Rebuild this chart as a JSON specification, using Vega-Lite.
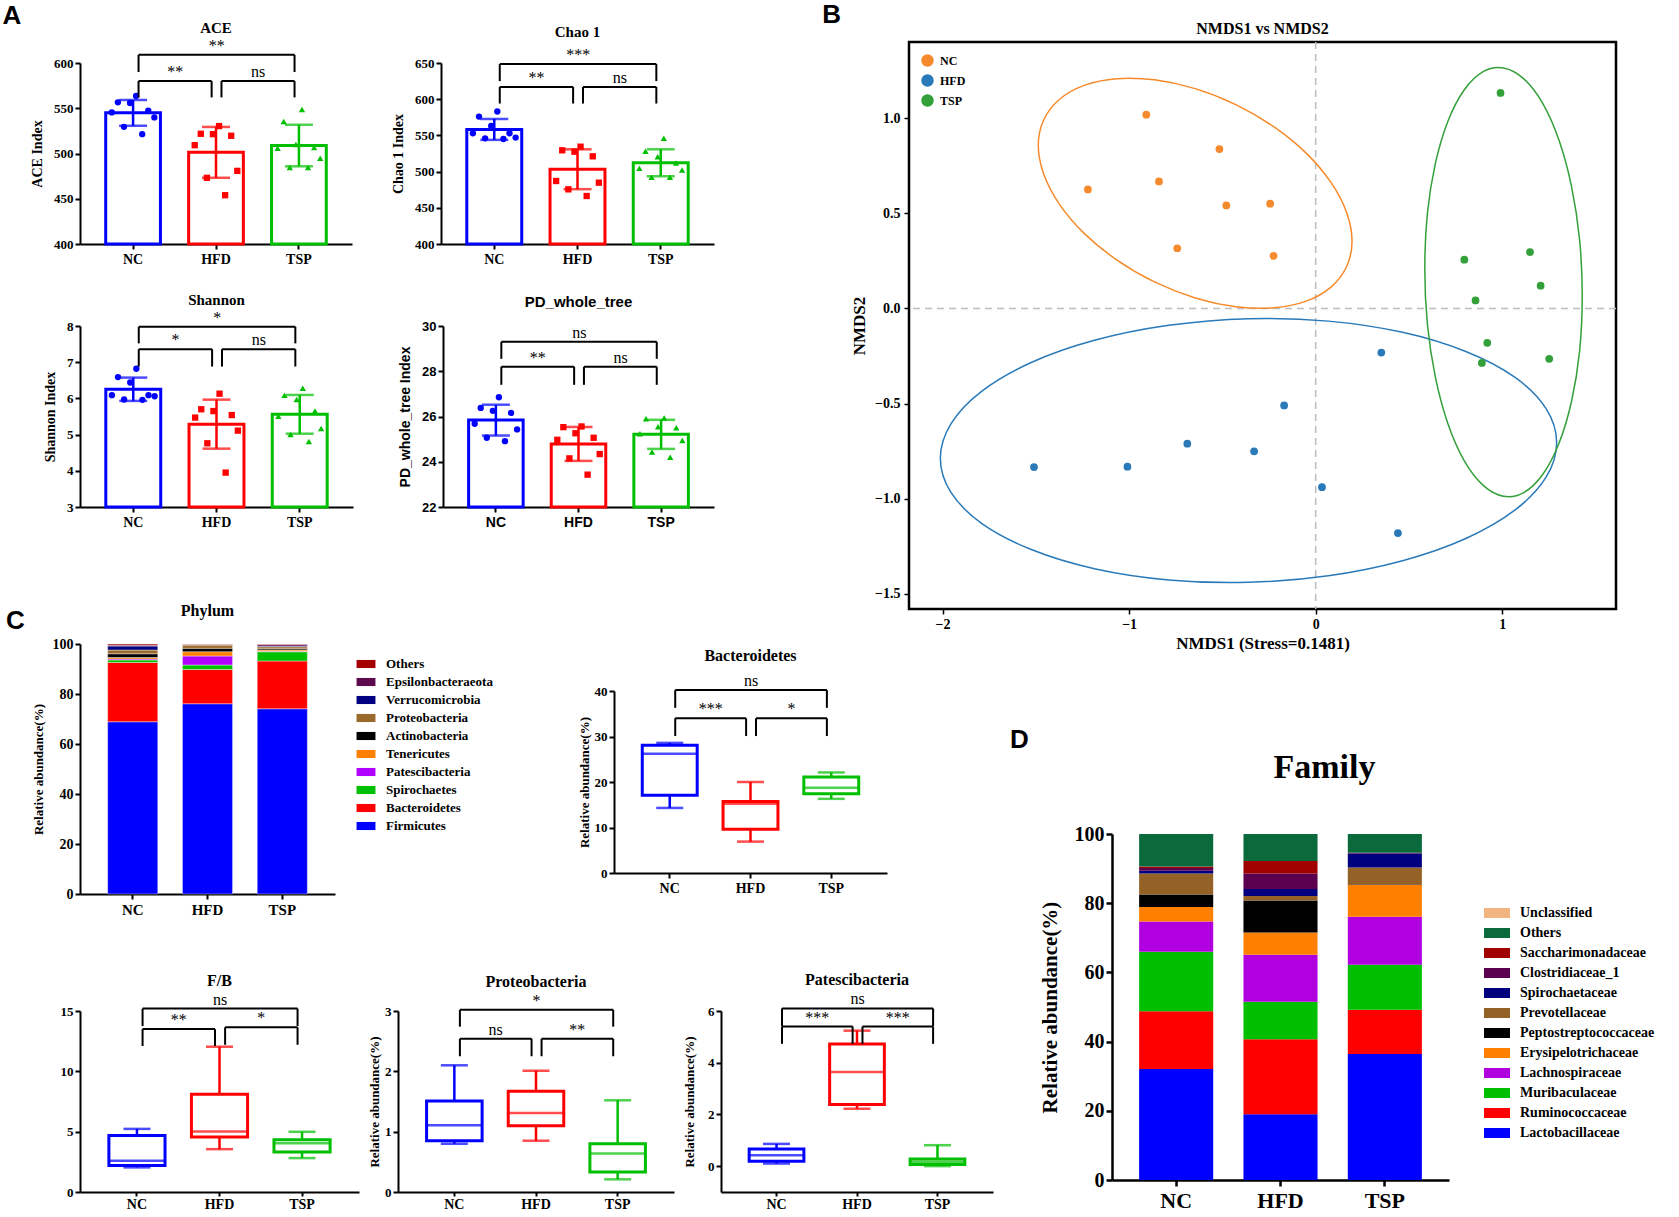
{
"$schema":"https://vega.github.io/schema/vega-lite/v6.json",
"background":"white",
"padding":{"left":2,"top":2,"right":2,"bottom":0},
"spacing":-65,
"resolve":{"scale":{"color":"independent","stroke":"independent","fill":"independent","shape":"independent","xOffset":"independent"},"legend":{"color":"independent","stroke":"independent","fill":"independent","shape":"independent"}},
"config":{
 "view":{"stroke":null},
 "axis":{"domainColor":"black","domainWidth":2,"tickColor":"black","tickWidth":2,"tickSize":5,"labelColor":"black","labelFont":"Liberation Serif","labelFontWeight":"bold","labelFontSize":13,"labelPadding":2,"labelOverlap":false,"titleFont":"Liberation Serif","titleFontWeight":"bold","titleColor":"black","titleFontSize":14,"grid":false},
 "axisX":{"labelAngle":0},
 "title":{"font":"Liberation Serif","fontWeight":"bold","color":"black","fontSize":15},
 "legend":{"labelFont":"Liberation Serif","labelFontWeight":"bold","labelColor":"black"},
 "text":{"font":"Liberation Serif","color":"black"}
},
"datasets":{
 "alpha":[
  {"m":"ACE","g":"NC","v":563.5},{"m":"ACE","g":"NC","v":556.5},{"m":"ACE","g":"NC","v":555.8},{"m":"ACE","g":"NC","v":545.4},{"m":"ACE","g":"NC","v":547.2},{"m":"ACE","g":"NC","v":539.9},{"m":"ACE","g":"NC","v":529.5},{"m":"ACE","g":"NC","v":521.4},
  {"m":"ACE","g":"HFD","v":530.3},{"m":"ACE","g":"HFD","v":521.8},{"m":"ACE","g":"HFD","v":521.4},{"m":"ACE","g":"HFD","v":519.6},{"m":"ACE","g":"HFD","v":509.2},{"m":"ACE","g":"HFD","v":480.8},{"m":"ACE","g":"HFD","v":473.1},{"m":"ACE","g":"HFD","v":453.9},
  {"m":"ACE","g":"TSP","v":548.7},{"m":"ACE","g":"TSP","v":535.4},{"m":"ACE","g":"TSP","v":505.9},{"m":"ACE","g":"TSP","v":506.6},{"m":"ACE","g":"TSP","v":510.0},{"m":"ACE","g":"TSP","v":494.8},{"m":"ACE","g":"TSP","v":484.5},{"m":"ACE","g":"TSP","v":484.5},
  {"m":"Chao","g":"NC","v":583},{"m":"Chao","g":"NC","v":576},{"m":"Chao","g":"NC","v":563},{"m":"Chao","g":"NC","v":553},{"m":"Chao","g":"NC","v":553},{"m":"Chao","g":"NC","v":546},{"m":"Chao","g":"NC","v":545},{"m":"Chao","g":"NC","v":547},
  {"m":"Chao","g":"HFD","v":529.4},{"m":"Chao","g":"HFD","v":534.4},{"m":"Chao","g":"HFD","v":527.5},{"m":"Chao","g":"HFD","v":521.1},{"m":"Chao","g":"HFD","v":487.0},{"m":"Chao","g":"HFD","v":484.7},{"m":"Chao","g":"HFD","v":475.5},{"m":"Chao","g":"HFD","v":466.3},
  {"m":"Chao","g":"TSP","v":546},{"m":"Chao","g":"TSP","v":528},{"m":"Chao","g":"TSP","v":520.6},{"m":"Chao","g":"TSP","v":511.9},{"m":"Chao","g":"TSP","v":504.5},{"m":"Chao","g":"TSP","v":502.2},{"m":"Chao","g":"TSP","v":492.1},{"m":"Chao","g":"TSP","v":492.1},
  {"m":"Shannon","g":"NC","v":6.82},{"m":"Shannon","g":"NC","v":6.59},{"m":"Shannon","g":"NC","v":6.44},{"m":"Shannon","g":"NC","v":6.09},{"m":"Shannon","g":"NC","v":6.06},{"m":"Shannon","g":"NC","v":5.96},{"m":"Shannon","g":"NC","v":5.97},{"m":"Shannon","g":"NC","v":6.09},
  {"m":"Shannon","g":"HFD","v":6.13},{"m":"Shannon","g":"HFD","v":5.70},{"m":"Shannon","g":"HFD","v":5.54},{"m":"Shannon","g":"HFD","v":5.47},{"m":"Shannon","g":"HFD","v":5.65},{"m":"Shannon","g":"HFD","v":5.11},{"m":"Shannon","g":"HFD","v":4.76},{"m":"Shannon","g":"HFD","v":3.95},
  {"m":"Shannon","g":"TSP","v":6.28},{"m":"Shannon","g":"TSP","v":6.09},{"m":"Shannon","g":"TSP","v":5.97},{"m":"Shannon","g":"TSP","v":5.65},{"m":"Shannon","g":"TSP","v":5.51},{"m":"Shannon","g":"TSP","v":5.17},{"m":"Shannon","g":"TSP","v":5.00},{"m":"Shannon","g":"TSP","v":4.81},
  {"m":"PD","g":"NC","v":26.85},{"m":"PD","g":"NC","v":26.38},{"m":"PD","g":"NC","v":26.16},{"m":"PD","g":"NC","v":26.25},{"m":"PD","g":"NC","v":25.68},{"m":"PD","g":"NC","v":25.43},{"m":"PD","g":"NC","v":25.06},{"m":"PD","g":"NC","v":24.91},
  {"m":"PD","g":"HFD","v":25.56},{"m":"PD","g":"HFD","v":25.53},{"m":"PD","g":"HFD","v":25.26},{"m":"PD","g":"HFD","v":24.97},{"m":"PD","g":"HFD","v":25.06},{"m":"PD","g":"HFD","v":24.34},{"m":"PD","g":"HFD","v":24.15},{"m":"PD","g":"HFD","v":23.43},
  {"m":"PD","g":"TSP","v":25.90},{"m":"PD","g":"TSP","v":25.93},{"m":"PD","g":"TSP","v":25.50},{"m":"PD","g":"TSP","v":25.24},{"m":"PD","g":"TSP","v":25.55},{"m":"PD","g":"TSP","v":24.94},{"m":"PD","g":"TSP","v":24.43},{"m":"PD","g":"TSP","v":24.20}
 ],
 "sig":[
  {"p":"ACE","g1":"NC","g2":"HFD","lv":580,"lg":562,"lab":"**","s":"a"},
  {"p":"ACE","g1":"HFD","g2":"TSP","lv":580,"lg":562,"lab":"ns","s":"a"},
  {"p":"ACE","g1":"NC","g2":"TSP","lv":609,"lg":590,"lab":"**","s":"w"},
  {"p":"Chao","g1":"NC","g2":"HFD","lv":617,"lg":594,"lab":"**","s":"a"},
  {"p":"Chao","g1":"HFD","g2":"TSP","lv":617,"lg":594,"lab":"ns","s":"a"},
  {"p":"Chao","g1":"NC","g2":"TSP","lv":648.5,"lg":625,"lab":"***","s":"w"},
  {"p":"Shannon","g1":"NC","g2":"HFD","lv":7.36,"lg":6.88,"lab":"*","s":"a"},
  {"p":"Shannon","g1":"HFD","g2":"TSP","lv":7.36,"lg":6.88,"lab":"ns","s":"a"},
  {"p":"Shannon","g1":"NC","g2":"TSP","lv":7.98,"lg":7.52,"lab":"*","s":"w"},
  {"p":"PD","g1":"NC","g2":"HFD","lv":28.2,"lg":27.4,"lab":"**","s":"a"},
  {"p":"PD","g1":"HFD","g2":"TSP","lv":28.2,"lg":27.4,"lab":"ns","s":"a"},
  {"p":"PD","g1":"NC","g2":"TSP","lv":29.3,"lg":28.55,"lab":"ns","s":"w"},
  {"p":"Bact","g1":"NC","g2":"HFD","lv":34,"lg":30.1,"lab":"***","s":"a"},
  {"p":"Bact","g1":"HFD","g2":"TSP","lv":34,"lg":30.1,"lab":"*","s":"a"},
  {"p":"Bact","g1":"NC","g2":"TSP","lv":40.2,"lg":36.3,"lab":"ns","s":"w"},
  {"p":"FB","g1":"NC","g2":"HFD","lv":13.5,"lg":12.1,"lab":"**","s":"a"},
  {"p":"FB","g1":"HFD","g2":"TSP","lv":13.65,"lg":12.2,"lab":"*","s":"a"},
  {"p":"FB","g1":"NC","g2":"TSP","lv":15.2,"lg":13.76,"lab":"ns","s":"w"},
  {"p":"Proteo","g1":"NC","g2":"HFD","lv":2.54,"lg":2.25,"lab":"ns","s":"a"},
  {"p":"Proteo","g1":"HFD","g2":"TSP","lv":2.54,"lg":2.25,"lab":"**","s":"a"},
  {"p":"Proteo","g1":"NC","g2":"TSP","lv":3.02,"lg":2.74,"lab":"*","s":"w"},
  {"p":"Pates","g1":"NC","g2":"HFD","lv":5.4,"lg":4.73,"lab":"***","s":"a"},
  {"p":"Pates","g1":"HFD","g2":"TSP","lv":5.4,"lg":4.73,"lab":"***","s":"a"},
  {"p":"Pates","g1":"NC","g2":"TSP","lv":6.1,"lg":5.42,"lab":"ns","s":"w"}
 ],
 "box":[
  {"t":"Bacteroidetes","g":"NC","mn":14.3,"q1":17.1,"md":26.2,"q3":28.1,"mx":28.6},
  {"t":"Bacteroidetes","g":"HFD","mn":6.9,"q1":9.6,"md":15.2,"q3":15.7,"mx":20.0},
  {"t":"Bacteroidetes","g":"TSP","mn":16.3,"q1":17.4,"md":18.75,"q3":21.1,"mx":22.1},
  {"t":"FB","g":"NC","mn":2.04,"q1":2.2,"md":2.59,"q3":4.68,"mx":5.23},
  {"t":"FB","g":"HFD","mn":3.55,"q1":4.55,"md":5.01,"q3":8.1,"mx":12.04},
  {"t":"FB","g":"TSP","mn":2.81,"q1":3.31,"md":4.05,"q3":4.33,"mx":4.99},
  {"t":"Proteo","g":"NC","mn":0.8,"q1":0.85,"md":1.105,"q3":1.51,"mx":2.1},
  {"t":"Proteo","g":"HFD","mn":0.85,"q1":1.1,"md":1.31,"q3":1.67,"mx":2.01},
  {"t":"Proteo","g":"TSP","mn":0.21,"q1":0.33,"md":0.64,"q3":0.8,"mx":1.52},
  {"t":"Pates","g":"NC","mn":0.1,"q1":0.19,"md":0.42,"q3":0.66,"mx":0.86},
  {"t":"Pates","g":"HFD","mn":2.22,"q1":2.38,"md":3.64,"q3":4.72,"mx":5.24},
  {"t":"Pates","g":"TSP","mn":0.0,"q1":0.06,"md":0.17,"q3":0.28,"mx":0.81}
 ],
 "nmds":[
  {"g":"NC","x":-0.908,"y":1.018},{"g":"NC","x":-0.516,"y":0.837},{"g":"NC","x":-1.221,"y":0.625},{"g":"NC","x":-0.840,"y":0.667},{"g":"NC","x":-0.479,"y":0.541},{"g":"NC","x":-0.244,"y":0.550},{"g":"NC","x":-0.742,"y":0.316},{"g":"NC","x":-0.226,"y":0.276},
  {"g":"HFD","x":0.352,"y":-0.232},{"g":"HFD","x":-0.169,"y":-0.510},{"g":"HFD","x":-0.688,"y":-0.711},{"g":"HFD","x":-0.330,"y":-0.751},{"g":"HFD","x":-1.510,"y":-0.834},{"g":"HFD","x":-1.009,"y":-0.832},{"g":"HFD","x":0.034,"y":-0.940},{"g":"HFD","x":0.441,"y":-1.181},
  {"g":"TSP","x":0.991,"y":1.132},{"g":"TSP","x":0.797,"y":0.256},{"g":"TSP","x":1.149,"y":0.296},{"g":"TSP","x":1.206,"y":0.119},{"g":"TSP","x":0.857,"y":0.042},{"g":"TSP","x":0.920,"y":-0.181},{"g":"TSP","x":0.891,"y":-0.287},{"g":"TSP","x":1.252,"y":-0.265}
 ],
 "ell":[
  {"g":"NC","t":0,"x":0.195,"y":0.353},{"g":"NC","t":1,"x":0.166,"y":0.504},{"g":"NC","t":2,"x":0.082,"y":0.662},{"g":"NC","t":3,"x":-0.051,"y":0.816},{"g":"NC","t":4,"x":-0.225,"y":0.955},{"g":"NC","t":5,"x":-0.428,"y":1.071},{"g":"NC","t":6,"x":-0.646,"y":1.155},{"g":"NC","t":7,"x":-0.864,"y":1.201},{"g":"NC","t":8,"x":-1.067,"y":1.207},{"g":"NC","t":9,"x":-1.241,"y":1.172},{"g":"NC","t":10,"x":-1.374,"y":1.098},{"g":"NC","t":11,"x":-1.458,"y":0.990},{"g":"NC","t":12,"x":-1.487,"y":0.857},{"g":"NC","t":13,"x":-1.458,"y":0.706},{"g":"NC","t":14,"x":-1.374,"y":0.548},{"g":"NC","t":15,"x":-1.241,"y":0.394},{"g":"NC","t":16,"x":-1.067,"y":0.255},{"g":"NC","t":17,"x":-0.864,"y":0.139},{"g":"NC","t":18,"x":-0.646,"y":0.055},{"g":"NC","t":19,"x":-0.428,"y":0.009},{"g":"NC","t":20,"x":-0.225,"y":0.003},{"g":"NC","t":21,"x":-0.051,"y":0.038},{"g":"NC","t":22,"x":0.082,"y":0.112},{"g":"NC","t":23,"x":0.166,"y":0.220},
  {"g":"HFD","t":0,"x":1.292,"y":-0.706},{"g":"HFD","t":1,"x":1.236,"y":-0.528},{"g":"HFD","t":2,"x":1.071,"y":-0.364},{"g":"HFD","t":3,"x":0.808,"y":-0.228},{"g":"HFD","t":4,"x":0.466,"y":-0.126},{"g":"HFD","t":5,"x":0.068,"y":-0.067},{"g":"HFD","t":6,"x":-0.360,"y":-0.054},{"g":"HFD","t":7,"x":-0.788,"y":-0.089},{"g":"HFD","t":8,"x":-1.186,"y":-0.168},{"g":"HFD","t":9,"x":-1.528,"y":-0.286},{"g":"HFD","t":10,"x":-1.791,"y":-0.436},{"g":"HFD","t":11,"x":-1.956,"y":-0.608},{"g":"HFD","t":12,"x":-2.012,"y":-0.788},{"g":"HFD","t":13,"x":-1.956,"y":-0.966},{"g":"HFD","t":14,"x":-1.791,"y":-1.130},{"g":"HFD","t":15,"x":-1.528,"y":-1.266},{"g":"HFD","t":16,"x":-1.186,"y":-1.368},{"g":"HFD","t":17,"x":-0.788,"y":-1.427},{"g":"HFD","t":18,"x":-0.360,"y":-1.440},{"g":"HFD","t":19,"x":0.068,"y":-1.405},{"g":"HFD","t":20,"x":0.466,"y":-1.326},{"g":"HFD","t":21,"x":0.808,"y":-1.208},{"g":"HFD","t":22,"x":1.071,"y":-1.058},{"g":"HFD","t":23,"x":1.236,"y":-0.886},
  {"g":"TSP","t":0,"x":1.429,"y":0.066},{"g":"TSP","t":1,"x":1.415,"y":0.359},{"g":"TSP","t":2,"x":1.372,"y":0.639},{"g":"TSP","t":3,"x":1.305,"y":0.882},{"g":"TSP","t":4,"x":1.218,"y":1.076},{"g":"TSP","t":5,"x":1.116,"y":1.206},{"g":"TSP","t":6,"x":1.007,"y":1.263},{"g":"TSP","t":7,"x":0.898,"y":1.244},{"g":"TSP","t":8,"x":0.796,"y":1.148},{"g":"TSP","t":9,"x":0.709,"y":0.984},{"g":"TSP","t":10,"x":0.642,"y":0.763},{"g":"TSP","t":11,"x":0.599,"y":0.499},{"g":"TSP","t":12,"x":0.585,"y":0.210},{"g":"TSP","t":13,"x":0.599,"y":-0.083},{"g":"TSP","t":14,"x":0.642,"y":-0.363},{"g":"TSP","t":15,"x":0.709,"y":-0.606},{"g":"TSP","t":16,"x":0.796,"y":-0.800},{"g":"TSP","t":17,"x":0.898,"y":-0.930},{"g":"TSP","t":18,"x":1.007,"y":-0.987},{"g":"TSP","t":19,"x":1.116,"y":-0.968},{"g":"TSP","t":20,"x":1.218,"y":-0.872},{"g":"TSP","t":21,"x":1.305,"y":-0.708},{"g":"TSP","t":22,"x":1.372,"y":-0.487},{"g":"TSP","t":23,"x":1.415,"y":-0.223}
 ],
 "phylum":[
  {"g":"NC","t":"Firmicutes","k":1,"v":68.9},{"g":"NC","t":"Bacteroidetes","k":2,"v":23.7},{"g":"NC","t":"Spirochaetes","k":3,"v":1.0},{"g":"NC","t":"Patescibacteria","k":4,"v":0.4},{"g":"NC","t":"Tenericutes","k":5,"v":0.6},{"g":"NC","t":"Actinobacteria","k":6,"v":1.5},{"g":"NC","t":"Proteobacteria","k":7,"v":1.5},{"g":"NC","t":"Verrucomicrobia","k":8,"v":1.6},{"g":"NC","t":"Epsilonbacteraeota","k":9,"v":0.3},{"g":"NC","t":"Others","k":10,"v":0.5},
  {"g":"HFD","t":"Firmicutes","k":1,"v":76.1},{"g":"HFD","t":"Bacteroidetes","k":2,"v":13.7},{"g":"HFD","t":"Spirochaetes","k":3,"v":1.8},{"g":"HFD","t":"Patescibacteria","k":4,"v":3.6},{"g":"HFD","t":"Tenericutes","k":5,"v":1.7},{"g":"HFD","t":"Actinobacteria","k":6,"v":1.4},{"g":"HFD","t":"Proteobacteria","k":7,"v":1.3},{"g":"HFD","t":"Verrucomicrobia","k":8,"v":0.1},{"g":"HFD","t":"Epsilonbacteraeota","k":9,"v":0.1},{"g":"HFD","t":"Others","k":10,"v":0.2},
  {"g":"TSP","t":"Firmicutes","k":1,"v":74.1},{"g":"TSP","t":"Bacteroidetes","k":2,"v":19.1},{"g":"TSP","t":"Spirochaetes","k":3,"v":3.7},{"g":"TSP","t":"Patescibacteria","k":4,"v":0.2},{"g":"TSP","t":"Tenericutes","k":5,"v":0.5},{"g":"TSP","t":"Actinobacteria","k":6,"v":0.5},{"g":"TSP","t":"Proteobacteria","k":7,"v":0.8},{"g":"TSP","t":"Verrucomicrobia","k":8,"v":0.3},{"g":"TSP","t":"Epsilonbacteraeota","k":9,"v":0.6},{"g":"TSP","t":"Others","k":10,"v":0.2}
 ],
 "family":[
  {"g":"NC","t":"Lactobacillaceae","k":1,"v":32.1},{"g":"NC","t":"Ruminococcaceae","k":2,"v":16.7},{"g":"NC","t":"Muribaculaceae","k":3,"v":17.2},{"g":"NC","t":"Lachnospiraceae","k":4,"v":8.7},{"g":"NC","t":"Erysipelotrichaceae","k":5,"v":4.2},{"g":"NC","t":"Peptostreptococcaceae","k":6,"v":3.6},{"g":"NC","t":"Prevotellaceae","k":7,"v":6.1},{"g":"NC","t":"Spirochaetaceae","k":8,"v":0.8},{"g":"NC","t":"Clostridiaceae_1","k":9,"v":0.8},{"g":"NC","t":"Saccharimonadaceae","k":10,"v":0.4},{"g":"NC","t":"Others","k":11,"v":9.4},
  {"g":"HFD","t":"Lactobacillaceae","k":1,"v":19.0},{"g":"HFD","t":"Ruminococcaceae","k":2,"v":21.7},{"g":"HFD","t":"Muribaculaceae","k":3,"v":10.8},{"g":"HFD","t":"Lachnospiraceae","k":4,"v":13.6},{"g":"HFD","t":"Erysipelotrichaceae","k":5,"v":6.4},{"g":"HFD","t":"Peptostreptococcaceae","k":6,"v":9.3},{"g":"HFD","t":"Prevotellaceae","k":7,"v":1.3},{"g":"HFD","t":"Spirochaetaceae","k":8,"v":2.0},{"g":"HFD","t":"Clostridiaceae_1","k":9,"v":4.5},{"g":"HFD","t":"Saccharimonadaceae","k":10,"v":3.6},{"g":"HFD","t":"Others","k":11,"v":7.8},
  {"g":"TSP","t":"Lactobacillaceae","k":1,"v":36.4},{"g":"TSP","t":"Ruminococcaceae","k":2,"v":12.8},{"g":"TSP","t":"Muribaculaceae","k":3,"v":13.0},{"g":"TSP","t":"Lachnospiraceae","k":4,"v":13.9},{"g":"TSP","t":"Erysipelotrichaceae","k":5,"v":9.2},{"g":"TSP","t":"Peptostreptococcaceae","k":6,"v":0.2},{"g":"TSP","t":"Prevotellaceae","k":7,"v":4.8},{"g":"TSP","t":"Spirochaetaceae","k":8,"v":4.1},{"g":"TSP","t":"Clostridiaceae_1","k":9,"v":0.1},{"g":"TSP","t":"Saccharimonadaceae","k":10,"v":0.1},{"g":"TSP","t":"Others","k":11,"v":5.4}
 ]
},
"vconcat":[
 {"hconcat":[
  {"title":{"text":"A","anchor":"start","offset":-8,"dx":-28,"fontSize":26,"font":"Liberation Sans","fontWeight":"bold"},
   "spacing":26,
   "resolve":{"scale":{"xOffset":"independent"}},
   "vconcat":[
    {"hconcat":[
     {"width":272,"height":202,"title":{"text":"ACE","offset":2},
      "resolve":{"scale":{"xOffset":"independent"}},
      "layer":[
       {"data":{"name":"alpha"},"transform":[{"filter":"datum.m==='ACE'"}],"mark":{"type":"bar","fill":"white","strokeWidth":3},
        "encoding":{"x":{"field":"g","type":"nominal","scale":{"domain":["NC","HFD","TSP"],"paddingInner":0.34,"paddingOuter":0.31},"axis":{"title":null,"labelFontSize":14,"labelPadding":3}},
         "y":{"aggregate":"mean","field":"v","type":"quantitative","title":"ACE Index","scale":{"domain":[400,600],"range":[202,21],"nice":false,"zero":false},"axis":{"values":[400,450,500,550,600],"titlePadding":9,"labelOverlap":false}},
         "stroke":{"field":"g","type":"nominal","scale":{"domain":["NC","HFD","TSP"],"range":["#0000FF","#FF0000","#00BF00"]},"legend":null}}},
       {"data":{"name":"alpha"},"transform":[{"filter":"datum.m==='ACE'"}],"mark":{"type":"errorbar","extent":"stdev","thickness":2.5,"ticks":{"size":28,"thickness":2.5}},
        "encoding":{"x":{"field":"g","type":"nominal"},"y":{"field":"v","type":"quantitative","title":"ACE Index"},"color":{"field":"g","type":"nominal","scale":{"domain":["NC","HFD","TSP"],"range":["#0000FF","#FF0000","#00BF00"]},"legend":null}}},
       {"data":{"name":"alpha"},"transform":[{"filter":"datum.m==='ACE'"},{"window":[{"op":"row_number","as":"r"}],"groupby":["g"],"sort":[{"field":"v","order":"descending"}]}],"mark":{"type":"point","filled":true,"size":40,"opacity":1},
        "encoding":{"x":{"field":"g","type":"nominal"},"xOffset":{"field":"r","type":"ordinal","scale":{"type":"point","domain":[5,2,7,3,1,8,4,6],"padding":1.5}},"y":{"field":"v","type":"quantitative","title":"ACE Index"},"color":{"field":"g","type":"nominal","scale":{"domain":["NC","HFD","TSP"],"range":["#0000FF","#FF0000","#00BF00"]},"legend":null},"shape":{"field":"g","type":"nominal","scale":{"domain":["NC","HFD","TSP"],"range":["circle","square","triangle-up"]},"legend":null}}},
       {"data":{"name":"sig"},"transform":[{"filter":"datum.p==='ACE'"}],"mark":{"type":"rule","strokeWidth":2,"color":"black"},"encoding":{"x":{"field":"g1","type":"nominal","bandPosition":0.6},"x2":{"field":"g2","bandPosition":0.42},"y":{"field":"lv","type":"quantitative"}}},
       {"data":{"name":"sig"},"transform":[{"filter":"datum.p==='ACE'"}],"mark":{"type":"rule","strokeWidth":2,"color":"black"},"encoding":{"x":{"field":"g1","type":"nominal","bandPosition":0.6},"y":{"field":"lv","type":"quantitative"},"y2":{"field":"lg"}}},
       {"data":{"name":"sig"},"transform":[{"filter":"datum.p==='ACE'"}],"mark":{"type":"rule","strokeWidth":2,"color":"black"},"encoding":{"x":{"field":"g2","type":"nominal","bandPosition":0.42},"y":{"field":"lv","type":"quantitative"},"y2":{"field":"lg"}}},
       {"data":{"name":"sig"},"transform":[{"filter":"datum.p==='ACE' && datum.s==='a'"}],"mark":{"type":"text","baseline":"bottom","dy":-1,"fontSize":16},"encoding":{"x":{"field":"g1","type":"nominal","bandPosition":1.27},"y":{"field":"lv","type":"quantitative"},"text":{"field":"lab"}}},
       {"data":{"name":"sig"},"transform":[{"filter":"datum.p==='ACE' && datum.s==='w'"}],"mark":{"type":"text","baseline":"bottom","dy":-1,"fontSize":16},"encoding":{"x":{"field":"g1","type":"nominal","bandPosition":2.03},"y":{"field":"lv","type":"quantitative"},"text":{"field":"lab"}}}
      ]},
     {"width":273,"height":202,"title":{"text":"Chao 1","offset":2},
      "resolve":{"scale":{"xOffset":"independent"}},
      "layer":[
       {"data":{"name":"alpha"},"transform":[{"filter":"datum.m==='Chao'"}],"mark":{"type":"bar","fill":"white","strokeWidth":3},
        "encoding":{"x":{"field":"g","type":"nominal","scale":{"domain":["NC","HFD","TSP"],"paddingInner":0.34,"paddingOuter":0.31},"axis":{"title":null,"labelFontSize":14,"labelPadding":3}},
         "y":{"aggregate":"mean","field":"v","type":"quantitative","title":"Chao 1 Index","scale":{"domain":[400,650],"range":[202,21],"nice":false,"zero":false},"axis":{"values":[400,450,500,550,600,650],"titlePadding":9,"labelOverlap":false}},
         "stroke":{"field":"g","type":"nominal","scale":{"domain":["NC","HFD","TSP"],"range":["#0000FF","#FF0000","#00BF00"]},"legend":null}}},
       {"data":{"name":"alpha"},"transform":[{"filter":"datum.m==='Chao'"}],"mark":{"type":"errorbar","extent":"stdev","thickness":2.5,"ticks":{"size":28,"thickness":2.5}},
        "encoding":{"x":{"field":"g","type":"nominal"},"y":{"field":"v","type":"quantitative","title":"Chao 1 Index"},"color":{"field":"g","type":"nominal","scale":{"domain":["NC","HFD","TSP"],"range":["#0000FF","#FF0000","#00BF00"]},"legend":null}}},
       {"data":{"name":"alpha"},"transform":[{"filter":"datum.m==='Chao'"},{"window":[{"op":"row_number","as":"r"}],"groupby":["g"],"sort":[{"field":"v","order":"descending"}]}],"mark":{"type":"point","filled":true,"size":40,"opacity":1},
        "encoding":{"x":{"field":"g","type":"nominal"},"xOffset":{"field":"r","type":"ordinal","scale":{"type":"point","domain":[5,2,7,3,1,8,4,6],"padding":1.5}},"y":{"field":"v","type":"quantitative","title":"Chao 1 Index"},"color":{"field":"g","type":"nominal","scale":{"domain":["NC","HFD","TSP"],"range":["#0000FF","#FF0000","#00BF00"]},"legend":null},"shape":{"field":"g","type":"nominal","scale":{"domain":["NC","HFD","TSP"],"range":["circle","square","triangle-up"]},"legend":null}}},
       {"data":{"name":"sig"},"transform":[{"filter":"datum.p==='Chao'"}],"mark":{"type":"rule","strokeWidth":2,"color":"black"},"encoding":{"x":{"field":"g1","type":"nominal","bandPosition":0.6},"x2":{"field":"g2","bandPosition":0.42},"y":{"field":"lv","type":"quantitative"}}},
       {"data":{"name":"sig"},"transform":[{"filter":"datum.p==='Chao'"}],"mark":{"type":"rule","strokeWidth":2,"color":"black"},"encoding":{"x":{"field":"g1","type":"nominal","bandPosition":0.6},"y":{"field":"lv","type":"quantitative"},"y2":{"field":"lg"}}},
       {"data":{"name":"sig"},"transform":[{"filter":"datum.p==='Chao'"}],"mark":{"type":"rule","strokeWidth":2,"color":"black"},"encoding":{"x":{"field":"g2","type":"nominal","bandPosition":0.42},"y":{"field":"lv","type":"quantitative"},"y2":{"field":"lg"}}},
       {"data":{"name":"sig"},"transform":[{"filter":"datum.p==='Chao' && datum.s==='a'"}],"mark":{"type":"text","baseline":"bottom","dy":-1,"fontSize":16},"encoding":{"x":{"field":"g1","type":"nominal","bandPosition":1.27},"y":{"field":"lv","type":"quantitative"},"text":{"field":"lab"}}},
       {"data":{"name":"sig"},"transform":[{"filter":"datum.p==='Chao' && datum.s==='w'"}],"mark":{"type":"text","baseline":"bottom","dy":-1,"fontSize":16},"encoding":{"x":{"field":"g1","type":"nominal","bandPosition":2.03},"y":{"field":"lv","type":"quantitative"},"text":{"field":"lab"}}}
      ]}
    ],"spacing":39,"resolve":{"scale":{"xOffset":"independent"}}},
    {"hconcat":[
     {"width":273,"height":181,"title":{"text":"Shannon","offset":2},
      "resolve":{"scale":{"xOffset":"independent"}},
      "layer":[
       {"data":{"name":"alpha"},"transform":[{"filter":"datum.m==='Shannon'"}],"mark":{"type":"bar","fill":"white","strokeWidth":3},
        "encoding":{"x":{"field":"g","type":"nominal","scale":{"domain":["NC","HFD","TSP"],"paddingInner":0.34,"paddingOuter":0.31},"axis":{"title":null,"labelFontSize":14,"labelPadding":3}},
         "y":{"aggregate":"mean","field":"v","type":"quantitative","title":"Shannon Index","scale":{"domain":[3,8],"range":[181,0],"nice":false,"zero":false},"axis":{"values":[3,4,5,6,7,8],"tickCount":6,"titlePadding":9,"labelOverlap":false,"labelFlush":false}},
         "stroke":{"field":"g","type":"nominal","scale":{"domain":["NC","HFD","TSP"],"range":["#0000FF","#FF0000","#00BF00"]},"legend":null}}},
       {"data":{"name":"alpha"},"transform":[{"filter":"datum.m==='Shannon'"}],"mark":{"type":"errorbar","extent":"stdev","thickness":2.5,"ticks":{"size":28,"thickness":2.5}},
        "encoding":{"x":{"field":"g","type":"nominal"},"y":{"field":"v","type":"quantitative","title":"Shannon Index","axis":{"values":[3,4,5,6,7,8],"labelOverlap":false}},"color":{"field":"g","type":"nominal","scale":{"domain":["NC","HFD","TSP"],"range":["#0000FF","#FF0000","#00BF00"]},"legend":null}}},
       {"data":{"name":"alpha"},"transform":[{"filter":"datum.m==='Shannon'"},{"window":[{"op":"row_number","as":"r"}],"groupby":["g"],"sort":[{"field":"v","order":"descending"}]}],"mark":{"type":"point","filled":true,"size":40,"opacity":1},
        "encoding":{"x":{"field":"g","type":"nominal"},"xOffset":{"field":"r","type":"ordinal","scale":{"type":"point","domain":[5,2,7,3,1,8,4,6],"padding":1.5}},"y":{"field":"v","type":"quantitative","title":"Shannon Index","axis":{"values":[3,4,5,6,7,8],"labelOverlap":false}},"color":{"field":"g","type":"nominal","scale":{"domain":["NC","HFD","TSP"],"range":["#0000FF","#FF0000","#00BF00"]},"legend":null},"shape":{"field":"g","type":"nominal","scale":{"domain":["NC","HFD","TSP"],"range":["circle","square","triangle-up"]},"legend":null}}},
       {"data":{"name":"sig"},"transform":[{"filter":"datum.p==='Shannon'"}],"mark":{"type":"rule","strokeWidth":2,"color":"black"},"encoding":{"x":{"field":"g1","type":"nominal","bandPosition":0.6},"x2":{"field":"g2","bandPosition":0.42},"y":{"field":"lv","type":"quantitative"}}},
       {"data":{"name":"sig"},"transform":[{"filter":"datum.p==='Shannon'"}],"mark":{"type":"rule","strokeWidth":2,"color":"black"},"encoding":{"x":{"field":"g1","type":"nominal","bandPosition":0.6},"y":{"field":"lv","type":"quantitative"},"y2":{"field":"lg"}}},
       {"data":{"name":"sig"},"transform":[{"filter":"datum.p==='Shannon'"}],"mark":{"type":"rule","strokeWidth":2,"color":"black"},"encoding":{"x":{"field":"g2","type":"nominal","bandPosition":0.42},"y":{"field":"lv","type":"quantitative"},"y2":{"field":"lg"}}},
       {"data":{"name":"sig"},"transform":[{"filter":"datum.p==='Shannon' && datum.s==='a'"}],"mark":{"type":"text","baseline":"bottom","dy":-1,"fontSize":16},"encoding":{"x":{"field":"g1","type":"nominal","bandPosition":1.27},"y":{"field":"lv","type":"quantitative"},"text":{"field":"lab"}}},
       {"data":{"name":"sig"},"transform":[{"filter":"datum.p==='Shannon' && datum.s==='w'"}],"mark":{"type":"text","baseline":"bottom","dy":-1,"fontSize":16},"encoding":{"x":{"field":"g1","type":"nominal","bandPosition":2.03},"y":{"field":"lv","type":"quantitative"},"text":{"field":"lab"}}}
      ]},
     {"width":271,"height":181,"title":{"text":"PD_whole_tree","offset":10,"font":"Liberation Sans","frame":"group"},
      "resolve":{"scale":{"xOffset":"independent"}},
      "layer":[
       {"data":{"name":"alpha"},"transform":[{"filter":"datum.m==='PD'"}],"mark":{"type":"bar","fill":"white","strokeWidth":3},
        "encoding":{"x":{"field":"g","type":"nominal","scale":{"domain":["NC","HFD","TSP"],"paddingInner":0.34,"paddingOuter":0.31},"axis":{"title":null,"labelFontSize":14,"labelPadding":3,"labelFont":"Liberation Sans"}},
         "y":{"aggregate":"mean","field":"v","type":"quantitative","title":"PD_whole_tree Index","scale":{"domain":[22,30],"nice":false,"zero":false},"axis":{"values":[22,24,26,28,30],"titlePadding":9,"labelOverlap":false,"labelFont":"Liberation Sans","titleFont":"Liberation Sans"}},
         "stroke":{"field":"g","type":"nominal","scale":{"domain":["NC","HFD","TSP"],"range":["#0000FF","#FF0000","#00BF00"]},"legend":null}}},
       {"data":{"name":"alpha"},"transform":[{"filter":"datum.m==='PD'"}],"mark":{"type":"errorbar","extent":"stdev","thickness":2.5,"ticks":{"size":28,"thickness":2.5}},
        "encoding":{"x":{"field":"g","type":"nominal"},"y":{"field":"v","type":"quantitative","title":"PD_whole_tree Index"},"color":{"field":"g","type":"nominal","scale":{"domain":["NC","HFD","TSP"],"range":["#0000FF","#FF0000","#00BF00"]},"legend":null}}},
       {"data":{"name":"alpha"},"transform":[{"filter":"datum.m==='PD'"},{"window":[{"op":"row_number","as":"r"}],"groupby":["g"],"sort":[{"field":"v","order":"descending"}]}],"mark":{"type":"point","filled":true,"size":40,"opacity":1},
        "encoding":{"x":{"field":"g","type":"nominal"},"xOffset":{"field":"r","type":"ordinal","scale":{"type":"point","domain":[5,2,7,3,1,8,4,6],"padding":1.5}},"y":{"field":"v","type":"quantitative","title":"PD_whole_tree Index"},"color":{"field":"g","type":"nominal","scale":{"domain":["NC","HFD","TSP"],"range":["#0000FF","#FF0000","#00BF00"]},"legend":null},"shape":{"field":"g","type":"nominal","scale":{"domain":["NC","HFD","TSP"],"range":["circle","square","triangle-up"]},"legend":null}}},
       {"data":{"name":"sig"},"transform":[{"filter":"datum.p==='PD'"}],"mark":{"type":"rule","strokeWidth":2,"color":"black"},"encoding":{"x":{"field":"g1","type":"nominal","bandPosition":0.6},"x2":{"field":"g2","bandPosition":0.42},"y":{"field":"lv","type":"quantitative"}}},
       {"data":{"name":"sig"},"transform":[{"filter":"datum.p==='PD'"}],"mark":{"type":"rule","strokeWidth":2,"color":"black"},"encoding":{"x":{"field":"g1","type":"nominal","bandPosition":0.6},"y":{"field":"lv","type":"quantitative"},"y2":{"field":"lg"}}},
       {"data":{"name":"sig"},"transform":[{"filter":"datum.p==='PD'"}],"mark":{"type":"rule","strokeWidth":2,"color":"black"},"encoding":{"x":{"field":"g2","type":"nominal","bandPosition":0.42},"y":{"field":"lv","type":"quantitative"},"y2":{"field":"lg"}}},
       {"data":{"name":"sig"},"transform":[{"filter":"datum.p==='PD' && datum.s==='a'"}],"mark":{"type":"text","baseline":"bottom","dy":-1,"fontSize":16},"encoding":{"x":{"field":"g1","type":"nominal","bandPosition":1.27},"y":{"field":"lv","type":"quantitative"},"text":{"field":"lab"}}},
       {"data":{"name":"sig"},"transform":[{"filter":"datum.p==='PD' && datum.s==='w'"}],"mark":{"type":"text","baseline":"bottom","dy":-1,"fontSize":16},"encoding":{"x":{"field":"g1","type":"nominal","bandPosition":2.03},"y":{"field":"lv","type":"quantitative"},"text":{"field":"lab"}}}
      ]}
    ],"spacing":45,"resolve":{"scale":{"xOffset":"independent"}}}
   ]},
  {"title":{"text":"B","anchor":"start","offset":-8,"dx":-27,"fontSize":26,"font":"Liberation Sans","fontWeight":"bold"},
   "vconcat":[
    {"width":707,"height":567,"view":{"stroke":"black","strokeWidth":2.5},
     "title":{"text":"NMDS1 vs NMDS2","offset":4,"fontSize":16,"frame":"group"},
     "layer":[
      {"data":{"values":[{}]},"mark":{"type":"rule","color":"#BDBDBD","strokeWidth":1.5,"strokeDash":[7,5]},"encoding":{"x":{"datum":0,"type":"quantitative"}}},
      {"data":{"values":[{}]},"mark":{"type":"rule","color":"#BDBDBD","strokeWidth":1.5,"strokeDash":[7,5]},"encoding":{"y":{"datum":0,"type":"quantitative"}}},
      {"data":{"name":"ell"},"mark":{"type":"line","strokeWidth":1.5,"interpolate":"cardinal-closed"},
       "encoding":{"x":{"field":"x","type":"quantitative","scale":{"domain":[-2.18,1.61],"nice":false,"zero":false},"axis":{"values":[-2,-1,0,1],"format":"d","title":"NMDS1  (Stress=0.1481)","titleFontSize":17,"labelFontSize":14,"domain":false,"tickSize":5,"tickWidth":1.5,"titlePadding":4,"labelPadding":3}},
        "y":{"field":"y","type":"quantitative","scale":{"domain":[-1.58,1.4],"nice":false,"zero":false},"axis":{"values":[-1.5,-1,-0.5,0,0.5,1],"format":".1f","title":"NMDS2","titleFontSize":17,"labelFontSize":14,"domain":false,"tickSize":5,"tickWidth":1.5,"titlePadding":6,"labelPadding":4}},
        "order":{"field":"t","type":"quantitative"},
        "color":{"field":"g","type":"nominal","scale":{"domain":["NC","HFD","TSP"],"range":["#F58A2C","#2A7AB9","#34A03A"]}}}},
      {"data":{"name":"nmds"},"mark":{"type":"point","filled":true,"size":60,"opacity":1},
       "encoding":{"x":{"field":"x","type":"quantitative"},"y":{"field":"y","type":"quantitative"},
        "color":{"field":"g","type":"nominal","scale":{"domain":["NC","HFD","TSP"],"range":["#F58A2C","#2A7AB9","#34A03A"]},"legend":{"title":null,"orient":"top-left","offset":12,"symbolType":"circle","symbolSize":110,"symbolStrokeWidth":2,"labelFontSize":12,"labelOffset":6,"rowPadding":1,"padding":0}}}}
     ]}
   ]}
 ],"spacing":108,"resolve":{"scale":{"color":"independent","stroke":"independent","fill":"independent","shape":"independent","xOffset":"independent"},"legend":{"color":"independent","stroke":"independent","fill":"independent","shape":"independent"}}},
 {"hconcat":[
  {"title":{"text":"C","anchor":"start","offset":-31,"dx":-26,"fontSize":26,"font":"Liberation Sans","fontWeight":"bold"},
   "spacing":55,
   "resolve":{"scale":{"color":"independent","stroke":"independent","fill":"independent"},"legend":{"color":"independent","stroke":"independent","fill":"independent"}},
   "vconcat":[
    {"hconcat":[
     {"width":255,"height":241,"title":{"text":"Phylum","fontSize":16,"offset":18,"frame":"group"},
      "data":{"name":"phylum"},"mark":{"type":"bar","stroke":"white","strokeWidth":0.4},
      "encoding":{"x":{"field":"g","type":"nominal","scale":{"domain":["NC","HFD","TSP"],"paddingInner":0.33,"paddingOuter":0.37},"axis":{"title":null,"labelFontSize":15,"labelPadding":3}},
       "y":{"field":"v","type":"quantitative","stack":"zero","scale":{"domain":[0,100],"range":[241,-9],"nice":false},"axis":{"values":[0,20,40,60,80,100],"title":"Relative abundance(%)","titleFontSize":13,"labelFontSize":14,"titlePadding":7}},
       "color":{"field":"t","type":"nominal","scale":{"domain":["Others","Epsilonbacteraeota","Verrucomicrobia","Proteobacteria","Actinobacteria","Tenericutes","Patescibacteria","Spirochaetes","Bacteroidetes","Firmicutes"],"range":["#A50000","#5E0A4E","#000080","#9A6A2C","#000000","#FF8000","#B000FF","#00C000","#FF0000","#0000FF"]},
        "legend":{"title":null,"orient":"none","legendX":277,"legendY":2,"symbolType":"M-1.05,-0.45H1.05V0.45H-1.05Z","symbolSize":324,"symbolStrokeWidth":0,"labelFontSize":13,"labelOffset":11,"rowPadding":2,"padding":0}},
       "order":{"field":"k","type":"quantitative"}}},
     {"width":273,"height":220,"title":{"text":"Bacteroidetes","fontSize":16,"offset":-11,"frame":"group"},
      "layer":[
       {"data":{"name":"box"},"transform":[{"filter":"datum.t==='Bacteroidetes'"}],"mark":{"type":"rule","strokeWidth":2.5},
        "encoding":{"x":{"field":"g","type":"nominal","scale":{"domain":["NC","HFD","TSP"],"paddingInner":0.32,"paddingOuter":0.35},"axis":{"title":null,"labelFontSize":14,"labelPadding":3}},
         "y":{"field":"mn","type":"quantitative","scale":{"domain":[0,40],"range":[220,38],"nice":false,"zero":false},"axis":{"values":[0,10,20,30,40],"title":"Relative abundance(%)","titleFontSize":13,"titlePadding":3}},"y2":{"field":"mx"},
         "stroke":{"field":"g","type":"nominal","scale":{"domain":["NC","HFD","TSP"],"range":["#0000FF","#FF0000","#00BF00"]},"legend":null}}},
       {"data":{"name":"box"},"transform":[{"filter":"datum.t==='Bacteroidetes'"}],"mark":{"type":"bar","fill":"white","strokeWidth":3},
        "encoding":{"x":{"field":"g","type":"nominal"},"y":{"field":"q1","type":"quantitative"},"y2":{"field":"q3"},"stroke":{"field":"g","type":"nominal","scale":{"domain":["NC","HFD","TSP"],"range":["#0000FF","#FF0000","#00BF00"]},"legend":null}}},
       {"data":{"name":"box"},"transform":[{"filter":"datum.t==='Bacteroidetes'"}],"mark":{"type":"tick","thickness":2.5,"size":55},
        "encoding":{"x":{"field":"g","type":"nominal"},"y":{"field":"md","type":"quantitative"},"color":{"field":"g","type":"nominal","scale":{"domain":["NC","HFD","TSP"],"range":["#0000FF","#FF0000","#00BF00"]},"legend":null}}},
       {"data":{"name":"box"},"transform":[{"filter":"datum.t==='Bacteroidetes'"}],"mark":{"type":"tick","thickness":2.5,"size":27},
        "encoding":{"x":{"field":"g","type":"nominal"},"y":{"field":"mn","type":"quantitative"},"color":{"field":"g","type":"nominal","scale":{"domain":["NC","HFD","TSP"],"range":["#0000FF","#FF0000","#00BF00"]},"legend":null}}},
       {"data":{"name":"box"},"transform":[{"filter":"datum.t==='Bacteroidetes'"}],"mark":{"type":"tick","thickness":2.5,"size":27},
        "encoding":{"x":{"field":"g","type":"nominal"},"y":{"field":"mx","type":"quantitative"},"color":{"field":"g","type":"nominal","scale":{"domain":["NC","HFD","TSP"],"range":["#0000FF","#FF0000","#00BF00"]},"legend":null}}},
       {"data":{"name":"sig"},"transform":[{"filter":"datum.p==='Bact'"}],"mark":{"type":"rule","strokeWidth":2,"color":"black"},"encoding":{"x":{"field":"g1","type":"nominal","bandPosition":0.6},"x2":{"field":"g2","bandPosition":0.42},"y":{"field":"lv","type":"quantitative"}}},
       {"data":{"name":"sig"},"transform":[{"filter":"datum.p==='Bact'"}],"mark":{"type":"rule","strokeWidth":2,"color":"black"},"encoding":{"x":{"field":"g1","type":"nominal","bandPosition":0.6},"y":{"field":"lv","type":"quantitative"},"y2":{"field":"lg"}}},
       {"data":{"name":"sig"},"transform":[{"filter":"datum.p==='Bact'"}],"mark":{"type":"rule","strokeWidth":2,"color":"black"},"encoding":{"x":{"field":"g2","type":"nominal","bandPosition":0.42},"y":{"field":"lv","type":"quantitative"},"y2":{"field":"lg"}}},
       {"data":{"name":"sig"},"transform":[{"filter":"datum.p==='Bact' && datum.s==='a'"}],"mark":{"type":"text","baseline":"bottom","dy":-1,"fontSize":16},"encoding":{"x":{"field":"g1","type":"nominal","bandPosition":1.245},"y":{"field":"lv","type":"quantitative"},"text":{"field":"lab"}}},
       {"data":{"name":"sig"},"transform":[{"filter":"datum.p==='Bact' && datum.s==='w'"}],"mark":{"type":"text","baseline":"bottom","dy":-1,"fontSize":16},"encoding":{"x":{"field":"g1","type":"nominal","bandPosition":1.98},"y":{"field":"lv","type":"quantitative"},"text":{"field":"lab"}}}
      ]}
    ],"spacing":85,"resolve":{"scale":{"color":"independent","stroke":"independent"},"legend":{"color":"independent","stroke":"independent"}}},
    {"hconcat":[
     {"width":279,"height":181,"title":{"text":"F/B","fontSize":16,"offset":3,"frame":"group"},
      "layer":[
       {"data":{"name":"box"},"transform":[{"filter":"datum.t==='FB'"}],"mark":{"type":"rule","strokeWidth":2.5},
        "encoding":{"x":{"field":"g","type":"nominal","scale":{"domain":["NC","HFD","TSP"],"paddingInner":0.32,"paddingOuter":0.35},"axis":{"title":null,"labelFontSize":14,"labelPadding":1,"tickSize":4}},
         "y":{"field":"mn","type":"quantitative","scale":{"domain":[0,15],"nice":false,"zero":false},"axis":{"values":[0,5,10,15],"title":null}},"y2":{"field":"mx"},
         "stroke":{"field":"g","type":"nominal","scale":{"domain":["NC","HFD","TSP"],"range":["#0000FF","#FF0000","#00BF00"]},"legend":null}}},
       {"data":{"name":"box"},"transform":[{"filter":"datum.t==='FB'"}],"mark":{"type":"bar","fill":"white","strokeWidth":3},
        "encoding":{"x":{"field":"g","type":"nominal"},"y":{"field":"q1","type":"quantitative"},"y2":{"field":"q3"},"stroke":{"field":"g","type":"nominal","scale":{"domain":["NC","HFD","TSP"],"range":["#0000FF","#FF0000","#00BF00"]},"legend":null}}},
       {"data":{"name":"box"},"transform":[{"filter":"datum.t==='FB'"}],"mark":{"type":"tick","thickness":2.5,"size":55},
        "encoding":{"x":{"field":"g","type":"nominal"},"y":{"field":"md","type":"quantitative"},"color":{"field":"g","type":"nominal","scale":{"domain":["NC","HFD","TSP"],"range":["#0000FF","#FF0000","#00BF00"]},"legend":null}}},
       {"data":{"name":"box"},"transform":[{"filter":"datum.t==='FB'"}],"mark":{"type":"tick","thickness":2.5,"size":27},
        "encoding":{"x":{"field":"g","type":"nominal"},"y":{"field":"mn","type":"quantitative"},"color":{"field":"g","type":"nominal","scale":{"domain":["NC","HFD","TSP"],"range":["#0000FF","#FF0000","#00BF00"]},"legend":null}}},
       {"data":{"name":"box"},"transform":[{"filter":"datum.t==='FB'"}],"mark":{"type":"tick","thickness":2.5,"size":27},
        "encoding":{"x":{"field":"g","type":"nominal"},"y":{"field":"mx","type":"quantitative"},"color":{"field":"g","type":"nominal","scale":{"domain":["NC","HFD","TSP"],"range":["#0000FF","#FF0000","#00BF00"]},"legend":null}}},
       {"data":{"name":"sig"},"transform":[{"filter":"datum.p==='FB'"}],"mark":{"type":"rule","strokeWidth":2,"color":"black"},"encoding":{"x":{"field":"g1","type":"nominal","bandPosition":0.6},"x2":{"field":"g2","bandPosition":0.42},"y":{"field":"lv","type":"quantitative"}}},
       {"data":{"name":"sig"},"transform":[{"filter":"datum.p==='FB'"}],"mark":{"type":"rule","strokeWidth":2,"color":"black"},"encoding":{"x":{"field":"g1","type":"nominal","bandPosition":0.6},"y":{"field":"lv","type":"quantitative"},"y2":{"field":"lg"}}},
       {"data":{"name":"sig"},"transform":[{"filter":"datum.p==='FB'"}],"mark":{"type":"rule","strokeWidth":2,"color":"black"},"encoding":{"x":{"field":"g2","type":"nominal","bandPosition":0.42},"y":{"field":"lv","type":"quantitative"},"y2":{"field":"lg"}}},
       {"data":{"name":"sig"},"transform":[{"filter":"datum.p==='FB' && datum.s==='a'"}],"mark":{"type":"text","baseline":"bottom","dy":-1,"fontSize":16},"encoding":{"x":{"field":"g1","type":"nominal","bandPosition":1.245},"y":{"field":"lv","type":"quantitative"},"text":{"field":"lab"}}},
       {"data":{"name":"sig"},"transform":[{"filter":"datum.p==='FB' && datum.s==='w'"}],"mark":{"type":"text","baseline":"bottom","dy":-1,"fontSize":16},"encoding":{"x":{"field":"g1","type":"nominal","bandPosition":1.98},"y":{"field":"lv","type":"quantitative"},"text":{"field":"lab"}}}
      ]},
     {"width":276,"height":181,"title":{"text":"Proteobacteria","fontSize":16,"offset":3,"frame":"group"},
      "layer":[
       {"data":{"name":"box"},"transform":[{"filter":"datum.t==='Proteo'"}],"mark":{"type":"rule","strokeWidth":2.5},
        "encoding":{"x":{"field":"g","type":"nominal","scale":{"domain":["NC","HFD","TSP"],"paddingInner":0.32,"paddingOuter":0.35},"axis":{"title":null,"labelFontSize":14,"labelPadding":1,"tickSize":4}},
         "y":{"field":"mn","type":"quantitative","scale":{"domain":[0,3],"nice":false,"zero":false},"axis":{"values":[0,1,2,3],"format":"d","title":"Relative abundance(%)","titleFontSize":13,"titlePadding":3}},"y2":{"field":"mx"},
         "stroke":{"field":"g","type":"nominal","scale":{"domain":["NC","HFD","TSP"],"range":["#0000FF","#FF0000","#00BF00"]},"legend":null}}},
       {"data":{"name":"box"},"transform":[{"filter":"datum.t==='Proteo'"}],"mark":{"type":"bar","fill":"white","strokeWidth":3},
        "encoding":{"x":{"field":"g","type":"nominal"},"y":{"field":"q1","type":"quantitative"},"y2":{"field":"q3"},"stroke":{"field":"g","type":"nominal","scale":{"domain":["NC","HFD","TSP"],"range":["#0000FF","#FF0000","#00BF00"]},"legend":null}}},
       {"data":{"name":"box"},"transform":[{"filter":"datum.t==='Proteo'"}],"mark":{"type":"tick","thickness":2.5,"size":55},
        "encoding":{"x":{"field":"g","type":"nominal"},"y":{"field":"md","type":"quantitative"},"color":{"field":"g","type":"nominal","scale":{"domain":["NC","HFD","TSP"],"range":["#0000FF","#FF0000","#00BF00"]},"legend":null}}},
       {"data":{"name":"box"},"transform":[{"filter":"datum.t==='Proteo'"}],"mark":{"type":"tick","thickness":2.5,"size":27},
        "encoding":{"x":{"field":"g","type":"nominal"},"y":{"field":"mn","type":"quantitative"},"color":{"field":"g","type":"nominal","scale":{"domain":["NC","HFD","TSP"],"range":["#0000FF","#FF0000","#00BF00"]},"legend":null}}},
       {"data":{"name":"box"},"transform":[{"filter":"datum.t==='Proteo'"}],"mark":{"type":"tick","thickness":2.5,"size":27},
        "encoding":{"x":{"field":"g","type":"nominal"},"y":{"field":"mx","type":"quantitative"},"color":{"field":"g","type":"nominal","scale":{"domain":["NC","HFD","TSP"],"range":["#0000FF","#FF0000","#00BF00"]},"legend":null}}},
       {"data":{"name":"sig"},"transform":[{"filter":"datum.p==='Proteo'"}],"mark":{"type":"rule","strokeWidth":2,"color":"black"},"encoding":{"x":{"field":"g1","type":"nominal","bandPosition":0.6},"x2":{"field":"g2","bandPosition":0.42},"y":{"field":"lv","type":"quantitative"}}},
       {"data":{"name":"sig"},"transform":[{"filter":"datum.p==='Proteo'"}],"mark":{"type":"rule","strokeWidth":2,"color":"black"},"encoding":{"x":{"field":"g1","type":"nominal","bandPosition":0.6},"y":{"field":"lv","type":"quantitative"},"y2":{"field":"lg"}}},
       {"data":{"name":"sig"},"transform":[{"filter":"datum.p==='Proteo'"}],"mark":{"type":"rule","strokeWidth":2,"color":"black"},"encoding":{"x":{"field":"g2","type":"nominal","bandPosition":0.42},"y":{"field":"lv","type":"quantitative"},"y2":{"field":"lg"}}},
       {"data":{"name":"sig"},"transform":[{"filter":"datum.p==='Proteo' && datum.s==='a'"}],"mark":{"type":"text","baseline":"bottom","dy":-1,"fontSize":16},"encoding":{"x":{"field":"g1","type":"nominal","bandPosition":1.245},"y":{"field":"lv","type":"quantitative"},"text":{"field":"lab"}}},
       {"data":{"name":"sig"},"transform":[{"filter":"datum.p==='Proteo' && datum.s==='w'"}],"mark":{"type":"text","baseline":"bottom","dy":-1,"fontSize":16},"encoding":{"x":{"field":"g1","type":"nominal","bandPosition":1.98},"y":{"field":"lv","type":"quantitative"},"text":{"field":"lab"}}}
      ]},
     {"width":272,"height":181,"title":{"text":"Patescibacteria","fontSize":16,"offset":3,"frame":"group"},
      "layer":[
       {"data":{"name":"box"},"transform":[{"filter":"datum.t==='Pates'"}],"mark":{"type":"rule","strokeWidth":2.5},
        "encoding":{"x":{"field":"g","type":"nominal","scale":{"domain":["NC","HFD","TSP"],"paddingInner":0.32,"paddingOuter":0.35},"axis":{"title":null,"labelFontSize":14,"labelPadding":1,"tickSize":4}},
         "y":{"field":"mn","type":"quantitative","scale":{"domain":[-1,6],"nice":false,"zero":false},"axis":{"values":[0,2,4,6],"title":"Relative abundance(%)","titleFontSize":13,"titlePadding":11}},"y2":{"field":"mx"},
         "stroke":{"field":"g","type":"nominal","scale":{"domain":["NC","HFD","TSP"],"range":["#0000FF","#FF0000","#00BF00"]},"legend":null}}},
       {"data":{"name":"box"},"transform":[{"filter":"datum.t==='Pates'"}],"mark":{"type":"bar","fill":"white","strokeWidth":3},
        "encoding":{"x":{"field":"g","type":"nominal"},"y":{"field":"q1","type":"quantitative"},"y2":{"field":"q3"},"stroke":{"field":"g","type":"nominal","scale":{"domain":["NC","HFD","TSP"],"range":["#0000FF","#FF0000","#00BF00"]},"legend":null}}},
       {"data":{"name":"box"},"transform":[{"filter":"datum.t==='Pates'"}],"mark":{"type":"tick","thickness":2.5,"size":55},
        "encoding":{"x":{"field":"g","type":"nominal"},"y":{"field":"md","type":"quantitative"},"color":{"field":"g","type":"nominal","scale":{"domain":["NC","HFD","TSP"],"range":["#0000FF","#FF0000","#00BF00"]},"legend":null}}},
       {"data":{"name":"box"},"transform":[{"filter":"datum.t==='Pates'"}],"mark":{"type":"tick","thickness":2.5,"size":27},
        "encoding":{"x":{"field":"g","type":"nominal"},"y":{"field":"mn","type":"quantitative"},"color":{"field":"g","type":"nominal","scale":{"domain":["NC","HFD","TSP"],"range":["#0000FF","#FF0000","#00BF00"]},"legend":null}}},
       {"data":{"name":"box"},"transform":[{"filter":"datum.t==='Pates'"}],"mark":{"type":"tick","thickness":2.5,"size":27},
        "encoding":{"x":{"field":"g","type":"nominal"},"y":{"field":"mx","type":"quantitative"},"color":{"field":"g","type":"nominal","scale":{"domain":["NC","HFD","TSP"],"range":["#0000FF","#FF0000","#00BF00"]},"legend":null}}},
       {"data":{"name":"sig"},"transform":[{"filter":"datum.p==='Pates'"}],"mark":{"type":"rule","strokeWidth":2,"color":"black"},"encoding":{"x":{"field":"g1","type":"nominal","bandPosition":0.6},"x2":{"field":"g2","bandPosition":0.42},"y":{"field":"lv","type":"quantitative"}}},
       {"data":{"name":"sig"},"transform":[{"filter":"datum.p==='Pates'"}],"mark":{"type":"rule","strokeWidth":2,"color":"black"},"encoding":{"x":{"field":"g1","type":"nominal","bandPosition":0.6},"y":{"field":"lv","type":"quantitative"},"y2":{"field":"lg"}}},
       {"data":{"name":"sig"},"transform":[{"filter":"datum.p==='Pates'"}],"mark":{"type":"rule","strokeWidth":2,"color":"black"},"encoding":{"x":{"field":"g2","type":"nominal","bandPosition":0.42},"y":{"field":"lv","type":"quantitative"},"y2":{"field":"lg"}}},
       {"data":{"name":"sig"},"transform":[{"filter":"datum.p==='Pates' && datum.s==='a'"}],"mark":{"type":"text","baseline":"bottom","dy":-1,"fontSize":16},"encoding":{"x":{"field":"g1","type":"nominal","bandPosition":1.245},"y":{"field":"lv","type":"quantitative"},"text":{"field":"lab"}}},
       {"data":{"name":"sig"},"transform":[{"filter":"datum.p==='Pates' && datum.s==='w'"}],"mark":{"type":"text","baseline":"bottom","dy":-1,"fontSize":16},"encoding":{"x":{"field":"g1","type":"nominal","bandPosition":1.98},"y":{"field":"lv","type":"quantitative"},"text":{"field":"lab"}}}
      ]}
    ],"spacing":9}
   ]},
  {"title":{"text":"D","anchor":"start","offset":-100,"dx":-29,"fontSize":26,"font":"Liberation Sans","fontWeight":"bold"},
   "vconcat":[
    {"width":337,"height":527,"title":{"text":"Family","fontSize":34,"offset":-132,"dx":44,"frame":"group"},
     "data":{"name":"family"},"mark":{"type":"bar"},
     "encoding":{"x":{"field":"g","type":"nominal","scale":{"domain":["NC","HFD","TSP"],"paddingInner":0.29,"paddingOuter":0.26},"axis":{"title":null,"labelFontSize":22,"labelPadding":4,"tickSize":6,"domainWidth":2.5,"tickWidth":2.5}},
      "y":{"field":"v","type":"quantitative","stack":"zero","scale":{"domain":[0,100],"range":[527,181],"nice":false},"axis":{"values":[0,20,40,60,80,100],"title":"Relative abundance(%)","titleFontSize":21,"labelFontSize":20,"titlePadding":14,"domainWidth":2.5,"tickWidth":2.5,"tickSize":6}},
      "color":{"field":"t","type":"nominal","scale":{"domain":["Unclassified","Others","Saccharimonadaceae","Clostridiaceae_1","Spirochaetaceae","Prevotellaceae","Peptostreptococcaceae","Erysipelotrichaceae","Lachnospiraceae","Muribaculaceae","Ruminococcaceae","Lactobacillaceae"],"range":["#F2B57F","#0A6A3C","#A00000","#5C0050","#00007F","#946226","#000000","#FF8000","#B000E0","#00BF00","#FF0000","#0000FF"]},
       "legend":{"title":null,"orient":"none","legendX":375,"legendY":250,"symbolType":"M-1.3,-0.5H1.3V0.5H-1.3Z","symbolSize":400,"symbolStrokeWidth":0,"labelFontSize":14,"labelOffset":13,"rowPadding":3,"padding":0,"labelLimit":200}},
      "order":{"field":"k","type":"quantitative"}}}
   ]}
 ],"spacing":17,"resolve":{"scale":{"color":"independent","stroke":"independent","fill":"independent","shape":"independent"},"legend":{"color":"independent","stroke":"independent","fill":"independent","shape":"independent"}}}
]
}
